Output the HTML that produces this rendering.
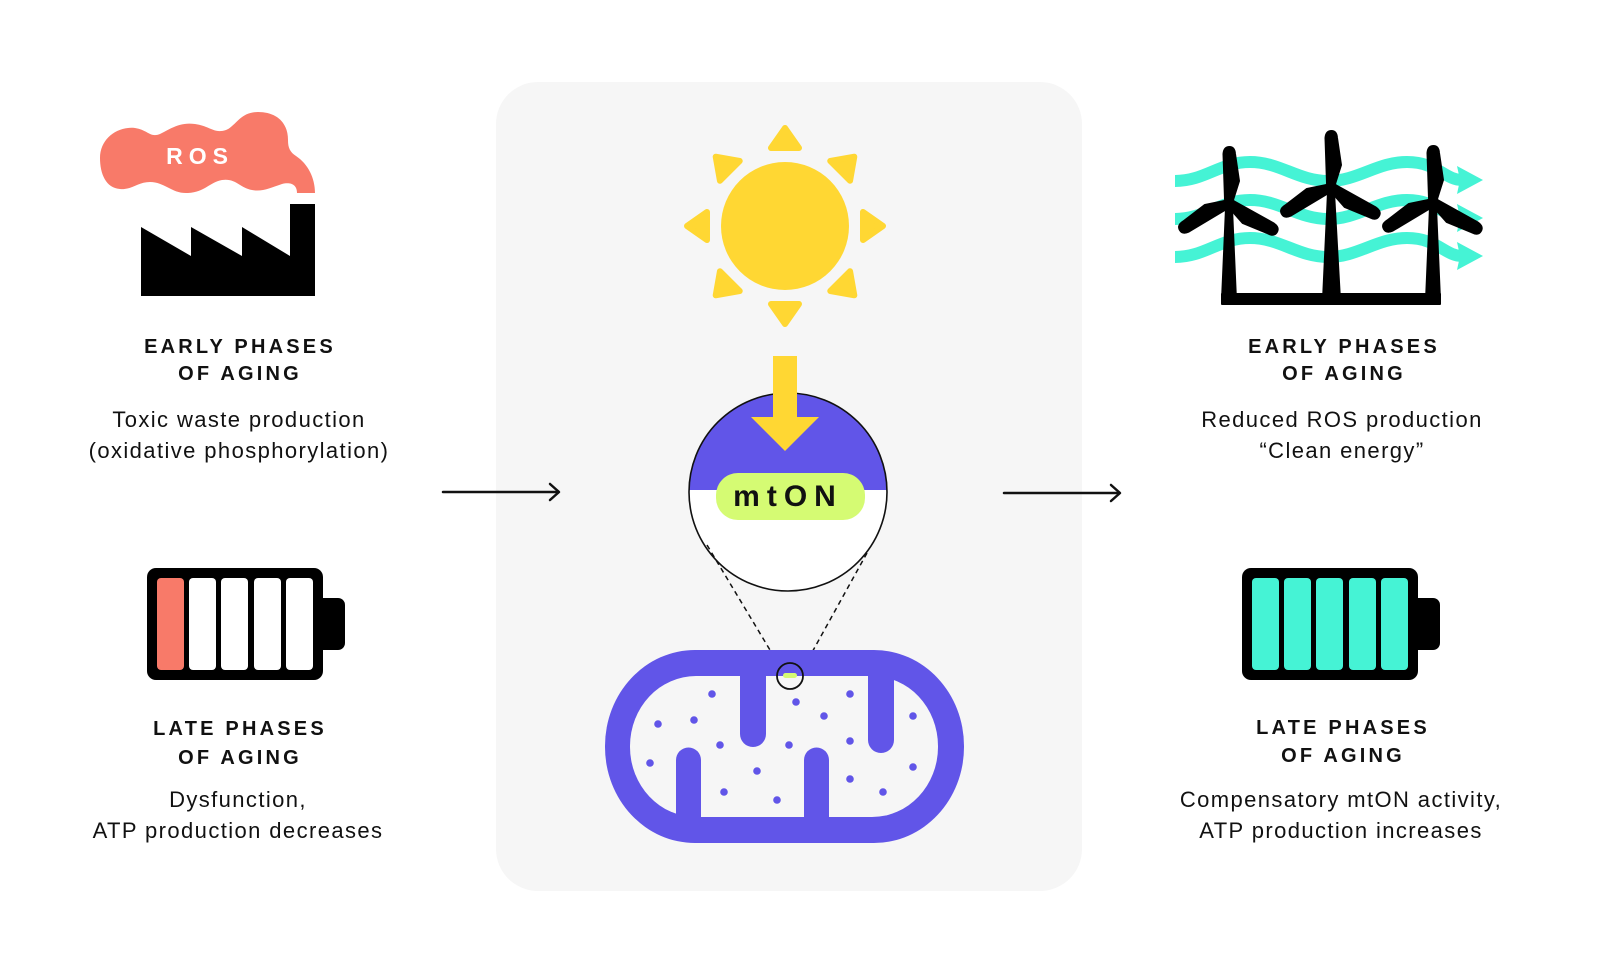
<!DOCTYPE html>
<html><head><meta charset="utf-8">
<style>
html,body{margin:0;padding:0;background:#fff;}
svg{display:block;}
.h{font-family:"Liberation Sans",Arial,sans-serif;font-weight:bold;font-size:20px;letter-spacing:3.2px;fill:#111;}
.b{font-family:"Liberation Sans",Arial,sans-serif;font-size:22px;letter-spacing:1.4px;fill:#111;}
</style></head>
<body>
<svg width="1600" height="973" viewBox="0 0 1600 973" xmlns="http://www.w3.org/2000/svg">
<rect width="1600" height="973" fill="#fff"/>
<!-- center panel -->
<rect x="496" y="82" width="586" height="809" rx="42" fill="#f6f6f6"/>

<!-- ===== LEFT: factory ===== -->
<path d="M100,158 C100,138 118,126 135,128 C148,130 150,138 160,134 C172,128 180,122 195,124 C210,126 214,134 226,130 C236,126 240,112 258,112 C276,112 288,122 288,140 C288,148 290,152 296,156 C308,164 315,178 315,193 L297,193 C297,184 290,182 282,184 C270,188 262,192 252,190 C240,188 236,178 222,180 C210,182 205,192 188,193 C172,194 165,182 150,182 C138,182 132,190 120,189 C106,188 100,174 100,158 Z" fill="#f87a69"/>
<text x="200" y="164" text-anchor="middle" font-family="Liberation Sans, Arial, sans-serif" font-weight="bold" font-size="23" letter-spacing="6" fill="#fff">ROS</text>
<polygon points="141,296 141,227 191,256 191,227 242,256 242,227 290,256 290,204 315,204 315,296" fill="#000"/>

<text class="h" x="240" y="353" text-anchor="middle">EARLY PHASES</text>
<text class="h" x="240" y="380" text-anchor="middle">OF AGING</text>
<text class="b" x="239" y="427" text-anchor="middle">Toxic waste production</text>
<text class="b" x="239" y="458" text-anchor="middle">(oxidative phosphorylation)</text>

<!-- left battery -->
<rect x="147" y="568" width="176" height="112" rx="9" fill="#000"/>
<rect x="315" y="598" width="30" height="52" rx="7" fill="#000"/>
<rect x="157" y="578" width="27" height="92" rx="4" fill="#f87a69"/>
<rect x="189" y="578" width="27" height="92" rx="4" fill="#fff"/>
<rect x="221" y="578" width="27" height="92" rx="4" fill="#fff"/>
<rect x="254" y="578" width="27" height="92" rx="4" fill="#fff"/>
<rect x="286" y="578" width="27" height="92" rx="4" fill="#fff"/>

<text class="h" x="240" y="735" text-anchor="middle">LATE PHASES</text>
<text class="h" x="240" y="764" text-anchor="middle">OF AGING</text>
<text class="b" x="238" y="807" text-anchor="middle">Dysfunction,</text>
<text class="b" x="238" y="838" text-anchor="middle">ATP production decreases</text>

<!-- arrows -->
<g stroke="#111" stroke-width="2.5" fill="none" stroke-linecap="round" stroke-linejoin="round">
<line x1="443" y1="492" x2="558" y2="492"/>
<polyline points="550,484 559,492 550,500"/>
<line x1="1004" y1="493" x2="1119" y2="493"/>
<polyline points="1111,485 1120,493 1111,501"/>
</g>

<!-- ===== CENTER ===== -->
<!-- sun -->
<g fill="#ffd733" stroke="#ffd733" stroke-width="6" stroke-linejoin="round">
<g transform="translate(785,226)">
<polygon points="0,-98 -14,-78 14,-78"/>
<polygon points="0,-98 -14,-78 14,-78" transform="rotate(45)"/>
<polygon points="0,-98 -14,-78 14,-78" transform="rotate(90)"/>
<polygon points="0,-98 -14,-78 14,-78" transform="rotate(135)"/>
<polygon points="0,-98 -14,-78 14,-78" transform="rotate(180)"/>
<polygon points="0,-98 -14,-78 14,-78" transform="rotate(225)"/>
<polygon points="0,-98 -14,-78 14,-78" transform="rotate(270)"/>
<polygon points="0,-98 -14,-78 14,-78" transform="rotate(315)"/>
</g>
</g>
<circle cx="785" cy="226" r="64" fill="#ffd733"/>

<!-- magnifier -->
<defs><clipPath id="mag"><circle cx="788" cy="492" r="99"/></clipPath></defs>
<circle cx="788" cy="492" r="99" fill="#fff"/>
<rect x="680" y="380" width="220" height="110" fill="#6155e8" clip-path="url(#mag)"/>
<circle cx="788" cy="492" r="99" fill="none" stroke="#111" stroke-width="1.6"/>
<rect x="773" y="356" width="24" height="63" fill="#ffd733"/>
<polygon points="751,417 819,417 785,451" fill="#ffd733"/>
<rect x="716" y="473" width="149" height="47" rx="22" fill="#d5fb73"/>
<text x="788" y="506" text-anchor="middle" font-family="Liberation Sans, Arial, sans-serif" font-weight="bold" font-size="30" letter-spacing="7" fill="#111">mtON</text>

<!-- dashed lines -->
<g stroke="#111" stroke-width="1.5" stroke-dasharray="5,4" fill="none">
<line x1="707" y1="545" x2="779" y2="665"/>
<line x1="867" y1="553" x2="805" y2="665"/>
</g>

<!-- mitochondrion -->
<rect x="605" y="650" width="359" height="193" rx="90" ry="96" fill="#6155e8"/>
<rect x="630" y="676" width="308" height="141" rx="66" ry="70" fill="#f6f6f6"/>
<g fill="#6155e8">
<path d="M740,670 V734 A13,13 0 0 0 766,734 V670 Z"/>
<path d="M868,670 V740 A13,13 0 0 0 894,740 V670 Z"/>
<path d="M676,824 V760 A12.5,12.5 0 0 1 701,760 V824 Z"/>
<path d="M804,824 V760 A12.5,12.5 0 0 1 829,760 V824 Z"/>
<circle cx="712" cy="694" r="3.8"/>
<circle cx="658" cy="724" r="3.8"/>
<circle cx="694" cy="720" r="3.8"/>
<circle cx="720" cy="745" r="3.8"/>
<circle cx="650" cy="763" r="3.8"/>
<circle cx="757" cy="771" r="3.8"/>
<circle cx="724" cy="792" r="3.8"/>
<circle cx="777" cy="800" r="3.8"/>
<circle cx="796" cy="702" r="3.8"/>
<circle cx="824" cy="716" r="3.8"/>
<circle cx="789" cy="745" r="3.8"/>
<circle cx="850" cy="694" r="3.8"/>
<circle cx="850" cy="741" r="3.8"/>
<circle cx="850" cy="779" r="3.8"/>
<circle cx="883" cy="792" r="3.8"/>
<circle cx="913" cy="716" r="3.8"/>
<circle cx="913" cy="767" r="3.8"/>
</g>
<rect x="783" y="673" width="14" height="5" rx="2.5" fill="#d5fb73"/>
<circle cx="790" cy="676" r="13" fill="none" stroke="#111" stroke-width="1.8"/>

<!-- ===== RIGHT: windmills ===== -->
<g fill="none" stroke="#45f3d5" stroke-width="12">
<path d="M1175,181 C1205,181 1220,162 1250,162 S1298,181 1328,181 S1377,162 1407,162 S1445,180 1462,180"/>
<path d="M1175,219 C1205,219 1220,200 1250,200 S1298,219 1328,219 S1377,200 1407,200 S1445,218 1462,218"/>
<path d="M1175,257 C1205,257 1220,238 1250,238 S1298,257 1328,257 S1377,238 1407,238 S1445,256 1462,256"/>
</g>
<g fill="#45f3d5">
<polygon points="1483,180 1457,166 1460,180 1457,194"/>
<polygon points="1483,218 1457,204 1460,218 1457,232"/>
<polygon points="1483,256 1457,242 1460,256 1457,270"/>
</g>
<defs>
<path id="blade" d="M-4,-4 L-5.5,-49 Q-5,-56 0.5,-56 Q5.5,-56 6,-49 L10,-22 L4,-3 Z"/>
</defs>
<g fill="#000" stroke="#000" stroke-width="2" stroke-linejoin="round">
<polygon points="1226,208 1232,208 1236,300 1222,300"/>
<polygon points="1328,192 1334,192 1340,300 1323,300"/>
<polygon points="1430,207 1436,207 1440,300 1426,300"/>
<rect x="1222" y="294" width="218" height="10"/>
<g transform="translate(1229,203)"><use href="#blade"/><use href="#blade" transform="rotate(121)"/><use href="#blade" transform="rotate(241)"/><circle r="5"/></g>
<g transform="translate(1331,187)"><use href="#blade"/><use href="#blade" transform="rotate(121)"/><use href="#blade" transform="rotate(241)"/><circle r="5"/></g>
<g transform="translate(1433,202)"><use href="#blade"/><use href="#blade" transform="rotate(121)"/><use href="#blade" transform="rotate(241)"/><circle r="5"/></g>
</g>

<text class="h" x="1344" y="353" text-anchor="middle">EARLY PHASES</text>
<text class="h" x="1344" y="380" text-anchor="middle">OF AGING</text>
<text class="b" x="1342" y="427" text-anchor="middle">Reduced ROS production</text>
<text class="b" x="1342" y="458" text-anchor="middle">“Clean energy”</text>

<!-- right battery -->
<rect x="1242" y="568" width="176" height="112" rx="9" fill="#000"/>
<rect x="1410" y="598" width="30" height="52" rx="7" fill="#000"/>
<rect x="1252" y="578" width="27" height="92" rx="4" fill="#45f3d5"/>
<rect x="1284" y="578" width="27" height="92" rx="4" fill="#45f3d5"/>
<rect x="1316" y="578" width="27" height="92" rx="4" fill="#45f3d5"/>
<rect x="1349" y="578" width="27" height="92" rx="4" fill="#45f3d5"/>
<rect x="1381" y="578" width="27" height="92" rx="4" fill="#45f3d5"/>

<text class="h" x="1343" y="734" text-anchor="middle">LATE PHASES</text>
<text class="h" x="1343" y="762" text-anchor="middle">OF AGING</text>
<text class="b" x="1341" y="807" text-anchor="middle">Compensatory mtON activity,</text>
<text class="b" x="1341" y="838" text-anchor="middle">ATP production increases</text>
</svg>
</body></html>
